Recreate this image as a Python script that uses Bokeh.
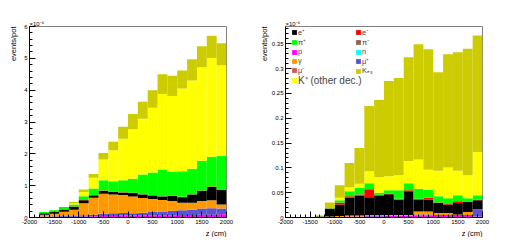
from bokeh.plotting import figure
from bokeh.layouts import row
from bokeh.models import Range1d, Title, Legend, LegendItem, FixedTicker, ColumnDataSource
from bokeh.embed import file_html
from bokeh.resources import INLINE

# ---------------- data (events/pot, in units of 1e-6) ----------------
bin_low = [-2000, -1800, -1600, -1400, -1200, -1000, -800, -600, -400, -200,
           0, 200, 400, 600, 800, 1000, 1200, 1400, 1600, 1800]
bin_width = 200

xtick_values = [-2000, -1500, -1000, -500, 0, 500, 1000, 1500, 2000]
xtick_labels = ["-2000", "-1500", "-1000", "-500", "0", "500", "1000", "1500", "2000"]
left_ytick_values = [0, 1, 2, 3, 4, 5, 6]
left_ytick_labels = ["0", "1", "2", "3", "4", "5", "6"]
right_ytick_values = [0, 0.05, 0.1, 0.15, 0.2, 0.25, 0.3, 0.35]
right_ytick_labels = ["0", "0.05", "0.1", "0.15", "0.2", "0.25", "0.3", "0.35"]

# stacking order, bottom to top
species = ["p", "mu_plus", "gamma", "e_plus", "e_minus", "pi_minus",
           "pi_plus", "n", "mu_minus", "k_other", "k_e3"]
species_labels = {"e_plus": "e⁺", "e_minus": "e⁻", "pi_plus": "π⁺", "pi_minus": "π⁻",
                  "p": "p", "n": "n", "gamma": "γ", "mu_plus": "μ⁺", "mu_minus": "μ⁻",
                  "k_e3": "Kₑ₃", "k_other": "K⁺ (other dec.)"}
species_colors = {"p": "#ff00ff", "mu_plus": "#5b52d6", "gamma": "#ff9900",
                  "e_plus": "#000000", "e_minus": "#ff0000", "pi_minus": "#8c6450",
                  "pi_plus": "#00ff00", "n": "#00ffff", "mu_minus": "#cc5c5c",
                  "k_other": "#ffff00", "k_e3": "#cccc00"}

zeros = [0] * 20

# left panel
left_p        = [0, .01, .02, .02, .02, .03, .04, .05, .05, .06, .06, .06, .07, .07, .07, .08, .08, .09, .09, .10]
left_mu_plus  = [0, .02, .02, .03, .04, .04, .05, .07, .08, .08, .07, .09, .10, .12, .14, .15, .16, .19, .20, .18]
left_gamma    = [0, .06, .08, .13, .18, .38, .53, .63, .59, .57, .53, .46, .41, .36, .31, .23, .22, .24, .25, .13]
left_e_plus   = [0, .04, .05, .07, .10, .09, .07, .08, .08, .07, .11, .11, .11, .11, .16, .18, .26, .32, .42, .46]
left_e_minus  = [0, .005, .005, .005, .005, .01, .015, .015, .015, .015, .01, .01, .01, .01, .01, .01, .01, .01, .01, .01]
left_pi_minus = zeros
left_pi_plus  = [0, .035, .055, .075, .065, .12, .205, .325, .325, .375, .44, .62, .71, .84, .74, .80, .80, .93, .94, 1.06]
left_n        = zeros
left_mu_minus = zeros
left_k_other  = [0, 0, 0, 0, .04, .13, .34, .65, .97, 1.30, 1.55, 1.75, 2.04, 2.37, 2.39, 2.60, 2.77, 2.94, 3.10, 2.84]
left_k_e3     = [0, 0, 0, 0, .04, .08, .12, .21, .27, .38, .48, .54, .55, .62, .63, .57, .67, .66, .70, .69]

# right panel
right_p        = [0, 0, 0, 0, .001, .001, .002, .002, .002, .002, .003, .003, .003, .004, .004, .003, .003, .003, .003, .002]
right_mu_plus  = [0, 0, 0, 0, 0, 0, 0, 0, .001, .001, .001, .001, .001, .002, .002, .002, .002, .002, .002, .013]
right_gamma    = [0, 0, 0, 0, .001, .002, .002, .002, .002, .002, .001, .001, .001, .006, .006, .004, .004, .001, .006, .001]
right_e_plus   = [0, 0, 0, .002, .016, .023, .036, .040, .036, .039, .042, .031, .048, .024, .024, .020, .017, .023, .020, .019]
right_e_minus  = [0, 0, 0, 0, 0, .004, .003, .002, .016, .002, .001, .001, .002, .002, .004, .001, .001, .004, .001, .001]
right_pi_minus = [0, 0, 0, 0, 0, 0, 0, .001, 0, 0, 0, .001, 0, 0, 0, 0, 0, 0, 0, 0]
right_pi_plus  = [0, 0, 0, 0, .0005, .005, .010, .013, .012, .004, .007, .017, .014, .020, .016, .013, .012, .012, .007, .009]
right_n        = zeros
right_mu_minus = zeros
right_k_other  = [0, 0, 0, 0, .0005, .005, .008, .008, .024, .031, .028, .030, .045, .059, .040, .051, .062, .049, .046, .087]
right_k_e3     = [0, 0, 0, .002, .011, .025, .049, .072, .132, .156, .192, .196, .209, .232, .243, .199, .228, .239, .255, .235]

left_data = {"p": left_p, "mu_plus": left_mu_plus, "gamma": left_gamma, "e_plus": left_e_plus,
             "e_minus": left_e_minus, "pi_minus": left_pi_minus, "pi_plus": left_pi_plus,
             "n": left_n, "mu_minus": left_mu_minus, "k_other": left_k_other, "k_e3": left_k_e3}
right_data = {"p": right_p, "mu_plus": right_mu_plus, "gamma": right_gamma, "e_plus": right_e_plus,
              "e_minus": right_e_minus, "pi_minus": right_pi_minus, "pi_plus": right_pi_plus,
              "n": right_n, "mu_minus": right_mu_minus, "k_other": right_k_other, "k_e3": right_k_e3}

FONT = "Liberation Sans"


def make_panel(data, ymax, ytick_values, ytick_labels, yminor_step, width, border_right,
               ytitle_standoff, legend=False):
    p = figure(width=width, height=237,
               x_range=Range1d(-2000, 2000), y_range=Range1d(0, ymax),
               min_border_left=29, min_border_right=border_right,
               min_border_top=26, min_border_bottom=19,
               output_backend="svg", toolbar_location=None,
               background_fill_color="white", border_fill_color="white")
    p.outline_line_color = "#808080"
    p.outline_line_width = 1
    p.xgrid.visible = False
    p.ygrid.visible = False

    src = ColumnDataSource(dict(x=[b + bin_width / 2 for b in bin_low], **data))
    rends = p.vbar_stack(species, x="x", width=bin_width, source=src,
                         fill_color=[species_colors[s] for s in species], line_color=None)
    rmap = dict(zip(species, rends))

    xminor = [v for v in range(-2000, 2001, 100)]
    nmin = int(round(ymax / yminor_step))
    yminor = [i * yminor_step for i in range(nmin + 1)]
    p.xaxis.ticker = FixedTicker(ticks=xtick_values, minor_ticks=xminor)
    p.yaxis.ticker = FixedTicker(ticks=ytick_values, minor_ticks=yminor)
    p.xaxis.major_label_overrides = dict(zip(xtick_values, xtick_labels))
    p.yaxis.major_label_overrides = dict(zip(ytick_values, ytick_labels))
    for ax in (p.xaxis[0], p.yaxis[0]):
        ax.axis_line_color = "black"
        ax.major_tick_line_color = "black"
        ax.minor_tick_line_color = "black"
        ax.major_tick_in = 6
        ax.major_tick_out = 0
        ax.minor_tick_in = 3
        ax.minor_tick_out = 0
        ax.major_label_text_font = FONT
        ax.major_label_text_font_size = "6px"
        ax.major_label_text_color = "black"
        ax.major_label_text_line_height = 1.0
        ax.major_label_standoff = 2

    if legend:
        def mk(keys, loc, size, lh, sp):
            lg = Legend(items=[LegendItem(label=species_labels[k], renderers=[rmap[k]]) for k in keys],
                        location=loc, orientation="vertical", padding=0, margin=0, spacing=sp,
                        glyph_width=6, glyph_height=6, label_height=lh, label_standoff=1,
                        label_text_font=FONT, label_text_font_size=size,
                        label_text_line_height=1.0,
                        border_line_color=None, background_fill_alpha=0)
            p.add_layout(lg)
        mk(["e_plus", "pi_plus", "p", "gamma", "mu_minus"], (6, 142), "7.5px", 9, 0)
        mk(["e_minus", "pi_minus", "n", "mu_plus", "k_e3"], (70, 142), "7.5px", 9, 0)
        mk(["k_other"], (6, 130), "10px", 11, 0)

    # axis titles and exponent (as titles in the side panels)
    p.add_layout(Title(text="events/pot", align="right", standoff=ytitle_standoff,
                       text_font=FONT, text_font_size="7.5px", text_font_style="normal",
                       text_line_height=1.0, text_color="black"), "left")
    p.add_layout(Title(text="z (cm)", align="right", standoff=0,
                       text_font=FONT, text_font_size="7.5px", text_font_style="normal",
                       text_line_height=1.0, text_color="black"), "below")
    p.add_layout(Title(text="×10⁻⁶", align="left", standoff=0,
                       text_font=FONT, text_font_size="6px", text_font_style="normal",
                       text_line_height=1.0, text_color="black"), "above")
    return p


p1 = make_panel(left_data, 6, left_ytick_values, left_ytick_labels, 0.2, 256, 30, 8)
p2 = make_panel(right_data, 0.385, right_ytick_values, right_ytick_labels, 0.01, 248, 22, 0, legend=True)

layout = row(p1, p2)
open("out.html", "w").write(file_html(layout, INLINE))
